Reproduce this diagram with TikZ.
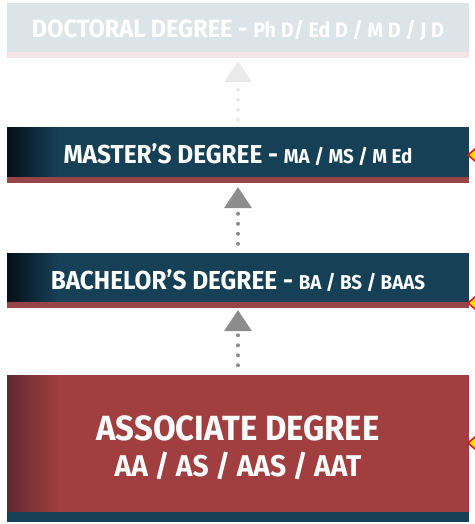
\documentclass[tikz,border=0pt]{standalone}
\usepackage{fontspec}
\usetikzlibrary{positioning,arrows.meta}
\newfontfamily\degfont[FakeStretch=0.94]{Fira Sans}
\definecolor{degteal}{RGB}{22,64,86}
\definecolor{degdark}{RGB}{6,16,24}
\definecolor{degred}{RGB}{160,62,64}
\definecolor{degreddark}{RGB}{96,42,48}
\definecolor{stripred}{RGB}{150,68,72}
\definecolor{docfill}{RGB}{221,228,231}
\definecolor{docstrip}{RGB}{243,229,232}
\definecolor{arrowgray}{RGB}{140,140,140}
\definecolor{arrowfaint}{RGB}{234,234,234}
\definecolor{markred}{RGB}{214,30,30}
\definecolor{markyellow}{RGB}{255,222,0}

\begin{document}
\begin{tikzpicture}[x=1pt,y=-1pt]
 \tikzset{
  degbox/.style n args={4}{minimum width=462pt, inner sep=0pt, align=center,
    text=white, fill=#2, font=\degfont\bfseries,
    path picture={
     \foreach \i in {0,...,19}{
      \pgfmathtruncatemacro\mix{5*\i}
      \fill[#2!\mix!#1] ([xshift=2.5*\i pt]path picture bounding box.north west)
        rectangle ([xshift=2.5*\i pt+2.7pt]path picture bounding box.south west);}
     \fill[#3] (path picture bounding box.south west)
       rectangle ([yshift=#4]path picture bounding box.south east);}},
  uparrow/.style={draw=#1, line width=4pt, line cap=round,
    dash pattern=on 0pt off 10pt,
    -{Triangle[width=28pt,length=21pt,line width=0pt,fill=#1]}},
  edgemark/.style={draw=markred, fill=markyellow, line width=1.6pt}
 }
 \useasboundingbox (0,0) rectangle (474,524);
 \fill[white] (0,0) rectangle (474,524);

 \node[degbox={docfill}{docfill}{docstrip}{6pt}, minimum height=55pt] (doc) at (238,30.5)
  {\fontsize{25}{28}\selectfont DOCTORAL DEGREE - {\fontsize{21}{22}\selectfont Ph D/ Ed D / M D / J D}};
 \node[degbox={degdark}{degteal}{stripred}{6pt}, minimum height=56pt] (mas) at (238,155)
  {\fontsize{26}{28}\selectfont MASTER’S DEGREE - {\fontsize{20}{22}\selectfont MA / MS / M Ed}};
 \node[degbox={degdark}{degteal}{stripred}{6pt}, minimum height=55pt] (bac) at (238,280.5)
  {\fontsize{26}{28}\selectfont BACHELOR’S DEGREE - {\fontsize{20}{22}\selectfont BA / BS / BAAS}};
 \node[degbox={degreddark}{degred}{degteal}{10pt}, minimum height=147pt] (aso) at (238,448)
  {\fontsize{35}{38}\selectfont ASSOCIATE DEGREE\\[10pt]
   \fontsize{30}{33}\selectfont AA / AS / AAS / AAT};

 % dotted arrows up the ladder
 \draw[uparrow=arrowfaint, shorten <=7pt, shorten >=3pt] (mas) -- (doc);
 \draw[uparrow=arrowgray, shorten <=9pt, shorten >=4pt] (bac) -- (mas);
 \draw[uparrow=arrowgray, shorten <=9pt, shorten >=2pt] (aso) -- (bac);

 % markers cut off at the right edge
 \foreach \y in {155,303,443}
  \draw[edgemark] (468,\y) -- (475,\y-6) -- (482,\y) -- (475,\y+6) -- cycle;
\end{tikzpicture}
\end{document}
